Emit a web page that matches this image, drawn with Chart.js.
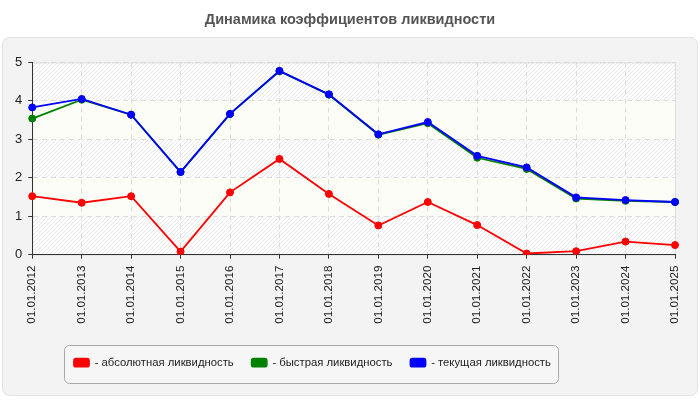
<!DOCTYPE html>
<html lang="ru">
<head>
<meta charset="utf-8">
<title>Динамика коэффициентов ликвидности</title>
<script src="https://cdn.jsdelivr.net/npm/chart.js@4.4.1/dist/chart.umd.min.js"></script>
<style>
  html, body { margin: 0; padding: 0; background: #fff; }
  #wrap { width: 700px; height: 400px; }
</style>
</head>
<body>
<div id="wrap"><canvas id="liqChart" width="700" height="400"></canvas></div>
<script>
// ---- data ----
const dates = ['01.01.2012', '01.01.2013', '01.01.2014', '01.01.2015', '01.01.2016', '01.01.2017', '01.01.2018',
  '01.01.2019', '01.01.2020', '01.01.2021', '01.01.2022', '01.01.2023', '01.01.2024', '01.01.2025'];
const absoluteLiq = [1.52, 1.35, 1.52, 0.08, 1.62, 2.49, 1.58, 0.76, 1.37, 0.77, 0.03, 0.09, 0.34, 0.25];
const quickLiq = [3.54, 4.03, 3.64, 2.15, 3.66, 4.77, 4.16, 3.12, 3.42, 2.52, 2.23, 1.46, 1.40, 1.37];
const currentLiq = [3.83, 4.05, 3.64, 2.15, 3.66, 4.78, 4.17, 3.13, 3.45, 2.57, 2.27, 1.49, 1.42, 1.37];
const seriesNames = ['- абсолютная ликвидность', '- быстрая ликвидность', '- текущая ликвидность'];
const yTicks = [0, 1, 2, 3, 4, 5];

Chart.defaults.font.family = 'Arial, "Liberation Sans", sans-serif';
Chart.defaults.color = '#222';

function roundRect(ctx, x, y, w, h, r) {
  ctx.beginPath();
  ctx.moveTo(x + r, y);
  ctx.lineTo(x + w - r, y);
  ctx.arcTo(x + w, y, x + w, y + r, r);
  ctx.lineTo(x + w, y + h - r);
  ctx.arcTo(x + w, y + h, x + w - r, y + h, r);
  ctx.lineTo(x + r, y + h);
  ctx.arcTo(x, y + h, x, y + h - r, r);
  ctx.lineTo(x, y + r);
  ctx.arcTo(x, y, x + r, y, r);
  ctx.closePath();
}

// hatch pattern for the plot area
function makeHatch() {
  const c = document.createElement('canvas');
  c.width = 4; c.height = 4;
  const g = c.getContext('2d');
  g.fillStyle = '#ffffff';
  g.fillRect(0, 0, 4, 4);
  g.strokeStyle = '#e8e8e8';
  g.lineWidth = 1;
  g.beginPath();
  g.moveTo(-1, 5); g.lineTo(5, -1);
  g.moveTo(-1, 1); g.lineTo(1, -1);
  g.moveTo(3, 5); g.lineTo(5, 3);
  g.stroke();
  return c;
}

// panel, plot background, legend frame
const backdrop = {
  id: 'backdrop',
  beforeDraw(chart) {
    const ctx = chart.ctx;
    const a = chart.chartArea;
    const y = chart.scales.y;
    ctx.save();
    roundRect(ctx, 2.5, 37.5, 695, 358, 7);
    ctx.fillStyle = '#f3f3f3';
    ctx.fill();
    ctx.strokeStyle = '#e2e2e2';
    ctx.lineWidth = 1;
    ctx.stroke();

    ctx.fillStyle = ctx.createPattern(makeHatch(), 'repeat');
    ctx.fillRect(a.left, a.top, a.right - a.left, a.bottom - a.top);
    // plain bands
    ctx.fillStyle = '#fdfdf7';
    [[1, 2], [3, 4]].forEach(([lo, hi]) => {
      const t = y.getPixelForValue(hi), b = y.getPixelForValue(lo);
      ctx.fillRect(a.left, t, a.right - a.left, b - t);
    });
    ctx.strokeStyle = '#dddddd';
    ctx.strokeRect(a.left + 0.5, a.top + 0.5, a.right - a.left, a.bottom - a.top);

    roundRect(ctx, 64.5, 345.5, 494, 38, 5);
    ctx.fillStyle = '#f6f6f6';
    ctx.fill();
    ctx.strokeStyle = '#a8a8a8';
    ctx.stroke();
    ctx.restore();
  },
  afterLayout(chart) {
    const lg = chart.legend;
    lg.left = 56;
    lg.right = 700;
    lg.width = 644;
    lg.top = 339;
    lg.bottom = 390;
    lg.height = 51;
    // centre the title on the whole page
    const tb = chart.titleBlock;
    tb.left = 0;
    tb.right = 700;
    tb.width = 700;
  }
};

const ctx = document.getElementById('liqChart').getContext('2d');
new Chart(ctx, {
  type: 'line',
  data: {
    labels: dates,
    datasets: [
      { label: seriesNames[0], data: absoluteLiq, borderColor: '#ff0000', backgroundColor: '#ff0000', order: 2 },
      { label: seriesNames[1], data: quickLiq, borderColor: '#008000', backgroundColor: '#008000', order: 1 },
      { label: seriesNames[2], data: currentLiq, borderColor: '#0000ff', backgroundColor: '#0000ff', order: 0 }
    ]
  },
  options: {
    responsive: false,
    animation: false,
    devicePixelRatio: 1,
    layout: { padding: { left: 9, right: 25, top: 0, bottom: 30 } },
    elements: {
      line: { borderWidth: 1.8, tension: 0 },
      point: { radius: 3.5, borderWidth: 1, hoverRadius: 4 }
    },
    scales: {
      x: {
        offset: false,
        grid: { color: '#dddddd', tickColor: '#333', tickLength: 4, drawTicks: true },
        border: { color: '#333', width: 1, dash: [5, 4] },
        ticks: { minRotation: 90, maxRotation: 90, padding: 7, font: { size: 11.6 }, color: '#222', autoSkip: false }
      },
      y: {
        min: 0, max: 5,
        afterBuildTicks(scale) { scale.ticks = yTicks.map(v => ({ value: v })); },
        grid: { color: '#dddddd', tickColor: '#333', tickLength: 4 },
        border: { color: '#333', width: 1, dash: [5, 4] },
        ticks: { padding: 6, font: { size: 13 }, color: '#222' }
      }
    },
    plugins: {
      title: {
        display: true,
        text: 'Динамика коэффициентов ликвидности',
        color: '#555',
        font: { size: 14.5, weight: 'bold' },
        padding: { top: 11, bottom: 34 }
      },
      legend: {
        position: 'bottom',
        align: 'start',
        labels: {
          boxWidth: 15,
          boxHeight: 8,
          useBorderRadius: true,
          borderRadius: 2,
          padding: 18,
          color: '#222',
          font: { size: 11.3 },
          sort: (a, b) => a.datasetIndex - b.datasetIndex
        }
      },
      tooltip: { enabled: false }
    }
  },
  plugins: [backdrop]
});
</script>
</body>
</html>
